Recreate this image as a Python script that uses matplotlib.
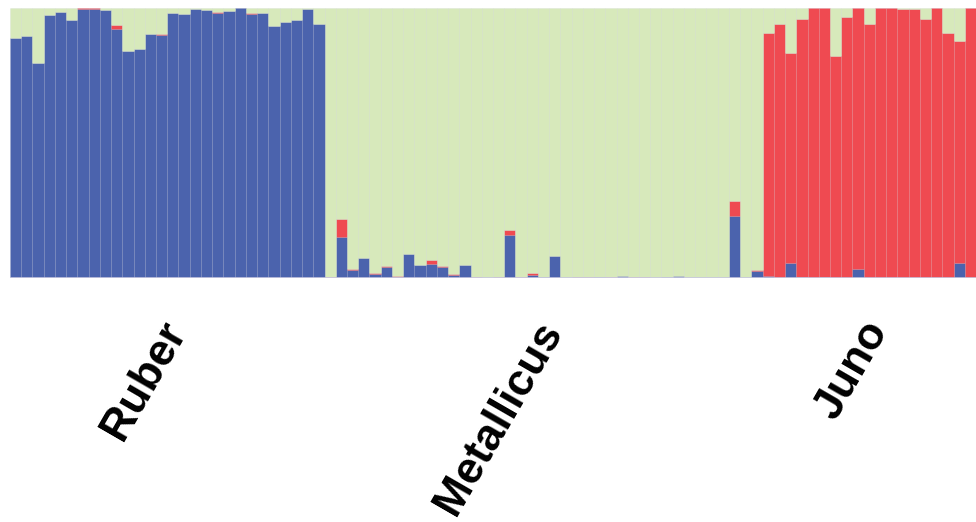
import numpy as np
import matplotlib.pyplot as plt
import matplotlib.transforms as mtransforms

# admixture proportions per individual
groups = ["Ruber", "Metallicus", "Juno"]

ruber_blue = [0.888, 0.896, 0.796, 0.975, 0.985, 0.957, 0.998, 0.997, 0.992, 0.923,
              0.840, 0.847, 0.905, 0.901, 0.983, 0.978, 0.996, 0.992, 0.980, 0.988,
              1.000, 0.977, 0.983, 0.933, 0.950, 0.956, 0.995, 0.940]
ruber_red = [0, 0, 0, 0, 0, 0, 0.002, 0.003, 0, 0.013,
             0, 0.002, 0, 0.003, 0, 0, 0, 0, 0.004, 0,
             0, 0.003, 0, 0, 0, 0, 0, 0]

metal_blue = [0, 0.152, 0.030, 0.073, 0.016, 0.042, 0.005, 0.088, 0.047, 0.053,
              0.042, 0.012, 0.047, 0, 0, 0, 0.160, 0, 0.010, 0.003,
              0.080, 0, 0, 0, 0.004, 0, 0.007, 0, 0, 0,
              0.003, 0.007, 0, 0, 0, 0, 0.228, 0, 0.026]
metal_red = [0.003, 0.068, 0.003, 0.002, 0.003, 0.003, 0.004, 0.002, 0.002, 0.014,
             0.003, 0.003, 0.002, 0.002, 0, 0.002, 0.016, 0.003, 0.009, 0,
             0.002, 0, 0.003, 0.002, 0, 0.002, 0.002, 0.002, 0.002, 0,
             0, 0, 0, 0, 0, 0, 0.057, 0, 0.002]

juno_blue = [0.006, 0, 0.056, 0.002, 0, 0.004, 0, 0, 0.035, 0,
             0, 0, 0, 0, 0, 0, 0, 0.056, 0]
juno_total = [0.909, 0.940, 0.832, 0.959, 1.000, 1.000, 0.821, 0.968, 1.000, 0.940,
              1.000, 1.000, 0.998, 0.996, 0.958, 1.000, 0.906, 0.878, 1.000]

blue = np.array(ruber_blue + metal_blue + juno_blue)
juno_red = [t - b for t, b in zip(juno_total, juno_blue)]
red = np.array(ruber_red + metal_red + juno_red)
green = 1 - blue - red

sizes = [len(ruber_blue), len(metal_blue), len(juno_blue)]
x = np.arange(len(blue))

c_blue = "#4b63ad"
c_red = "#ef4a51"
c_green = "#d7e9bb"
edge = (0.55, 0.55, 0.65, 0.12)

fig = plt.figure(figsize=(9.76, 5.22), dpi=100)
ax = fig.add_axes([10 / 976, 244 / 522, 966 / 976, 270 / 522])

ax.bar(x, blue, width=1.0, color=c_blue, edgecolor=edge, linewidth=0.4)
ax.bar(x, red, width=1.0, bottom=blue, color=c_red, edgecolor=edge, linewidth=0.4)
ax.bar(x, green, width=1.0, bottom=blue + red, color=c_green, edgecolor=edge, linewidth=0.4)
ax.axhline(0, color="#c8c8e0", lw=1.2)

ax.set_xlim(-0.5, len(blue) - 0.5)
ax.set_ylim(0, 1)

starts = np.cumsum([0] + sizes[:-1])
centers = [s + n / 2 - 0.5 for s, n in zip(starts, sizes)]
ax.set_xticks(centers)
ax.set_xticklabels(groups, rotation=60, ha="right", va="top", rotation_mode="anchor",
                   fontsize=32, fontweight="bold", family="Liberation Sans")
ax.tick_params(axis="x", length=0, pad=24)
ax.set_yticks([])
for s in ax.spines.values():
    s.set_visible(False)

# nudge the group labels a little left/down
shift = mtransforms.ScaledTranslation(-0.09, -0.03, fig.dpi_scale_trans)
for lab in ax.get_xticklabels():
    lab.set_transform(lab.get_transform() + shift)

fig.savefig("out.png", dpi=100)
